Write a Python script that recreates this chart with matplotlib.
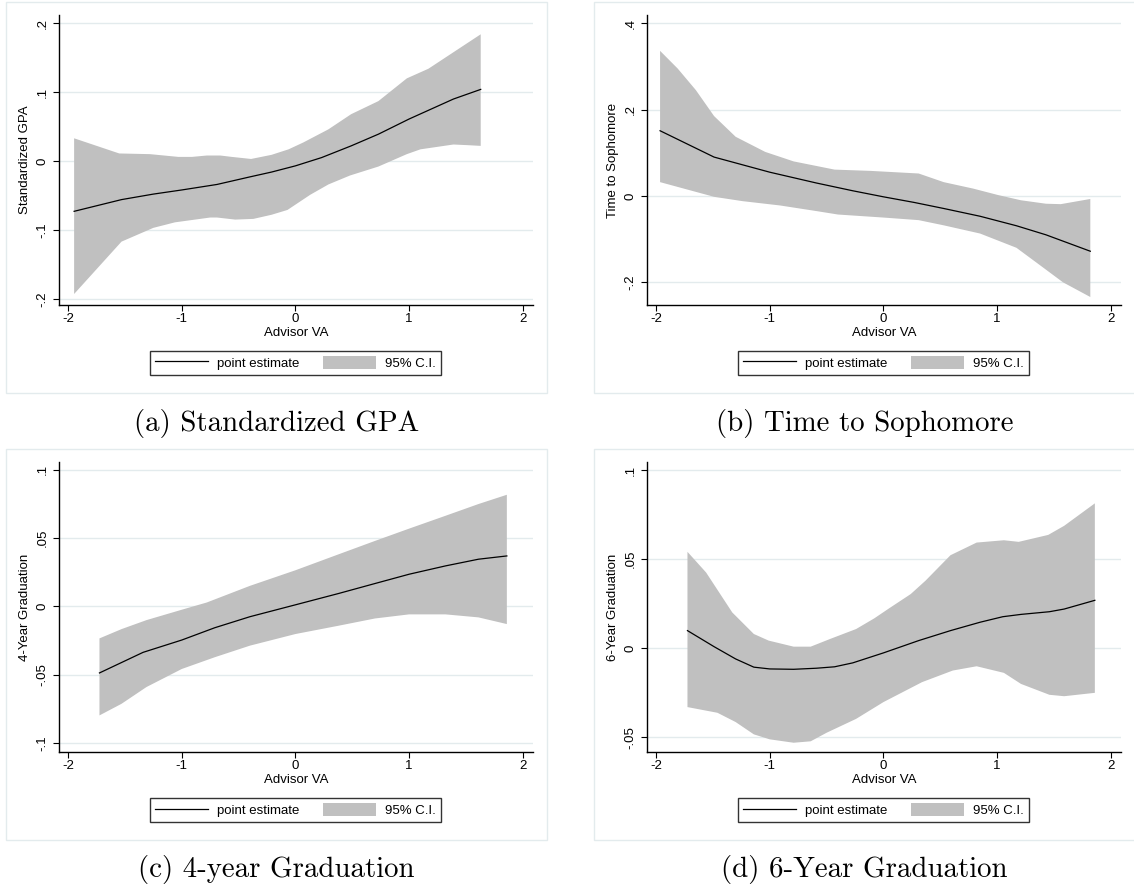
import numpy as np
import matplotlib
matplotlib.use("Agg")
from matplotlib import pyplot as plt
from matplotlib.patches import Rectangle, Patch
from matplotlib.lines import Line2D

# (a) Standardized GPA
a_x = [-1.947, -1.53, -1.25, -1.0, -0.69, -0.40, -0.21, 0.0, 0.23, 0.49, 0.73, 1.0, 1.39, 1.63]
a_est = [-0.073, -0.056, -0.048, -0.042, -0.034, -0.023, -0.016, -0.007, 0.005, 0.022, 0.039, 0.061, 0.090, 0.104]
a_up_x = [-1.947, -1.55, -1.28, -1.03, -0.91, -0.78, -0.66, -0.56, -0.39, -0.21, -0.06, 0.07, 0.29, 0.49, 0.73, 0.98, 1.17, 1.63]
a_up = [0.033, 0.011, 0.010, 0.006, 0.006, 0.008, 0.008, 0.006, 0.003, 0.009, 0.017, 0.027, 0.046, 0.068, 0.087, 0.120, 0.134, 0.184]
a_lo_x = [-1.947, -1.53, -1.25, -1.06, -0.75, -0.69, -0.53, -0.37, -0.21, -0.07, 0.13, 0.29, 0.48, 0.73, 0.98, 1.10, 1.39, 1.52, 1.63]
a_lo = [-0.193, -0.117, -0.097, -0.089, -0.082, -0.082, -0.085, -0.084, -0.078, -0.071, -0.049, -0.034, -0.021, -0.008, 0.010, 0.017, 0.024, 0.023, 0.022]

# (b) Time to Sophomore
b_x = [-1.965, -1.49, -1.0, -0.59, -0.27, 0.0, 0.27, 0.53, 0.85, 1.17, 1.43, 1.82]
b_est = [0.151, 0.090, 0.055, 0.030, 0.012, -0.002, -0.015, -0.029, -0.047, -0.069, -0.090, -0.128]
b_up_x = [-1.965, -1.81, -1.65, -1.49, -1.30, -1.04, -0.79, -0.43, -0.11, 0.31, 0.53, 0.79, 1.01, 1.21, 1.43, 1.56, 1.82]
b_up = [0.336, 0.295, 0.245, 0.185, 0.137, 0.102, 0.080, 0.061, 0.058, 0.052, 0.032, 0.017, 0.002, -0.010, -0.018, -0.019, -0.007]
b_lo_x = [-1.965, -1.49, -1.24, -0.91, -0.59, -0.40, 0.0, 0.31, 0.53, 0.85, 1.17, 1.36, 1.58, 1.82]
b_lo = [0.032, -0.002, -0.012, -0.022, -0.035, -0.043, -0.050, -0.056, -0.068, -0.087, -0.120, -0.157, -0.200, -0.234]

# (c) 4-year Graduation
c_x = [-1.724, -1.34, -1.0, -0.71, -0.40, 0.0, 0.38, 0.70, 1.0, 1.32, 1.61, 1.86]
c_est = [-0.0487, -0.0336, -0.0246, -0.0156, -0.0075, 0.0012, 0.0095, 0.0168, 0.0236, 0.0297, 0.0346, 0.0370]
c_up_x = [-1.724, -1.53, -1.31, -1.0, -0.78, -0.40, 0.0, 0.38, 0.70, 1.0, 1.32, 1.61, 1.86]
c_up = [-0.0234, -0.0166, -0.0100, -0.0024, 0.0029, 0.0151, 0.0265, 0.0382, 0.0480, 0.0570, 0.0664, 0.0750, 0.0818]
c_lo_x = [-1.724, -1.53, -1.31, -1.0, -0.71, -0.40, 0.0, 0.38, 0.70, 1.0, 1.32, 1.61, 1.86]
c_lo = [-0.0798, -0.0713, -0.0590, -0.0458, -0.0372, -0.0287, -0.0202, -0.0141, -0.0088, -0.0058, -0.0058, -0.0080, -0.0129]

# (d) 6-Year Graduation
d_x = [-1.724, -1.49, -1.30, -1.14, -1.0, -0.79, -0.59, -0.43, -0.27, 0.0, 0.31, 0.59, 0.85, 1.05, 1.21, 1.46, 1.59, 1.86]
d_est = [0.0099, 0.0009, -0.0060, -0.0106, -0.0116, -0.0118, -0.0112, -0.0104, -0.0082, -0.0026, 0.0043, 0.0099, 0.0146, 0.0177, 0.0190, 0.0205, 0.0220, 0.0269]
d_up_x = [-1.724, -1.56, -1.33, -1.14, -1.01, -0.79, -0.64, -0.47, -0.24, -0.08, 0.05, 0.24, 0.37, 0.59, 0.82, 1.06, 1.19, 1.45, 1.59, 1.86]
d_up = [0.0541, 0.0425, 0.0201, 0.0080, 0.0043, 0.0009, 0.0009, 0.0052, 0.0108, 0.0168, 0.0224, 0.0304, 0.0379, 0.0522, 0.0593, 0.0606, 0.0597, 0.0636, 0.0687, 0.0813]
d_lo_x = [-1.724, -1.46, -1.30, -1.14, -1.0, -0.79, -0.64, -0.50, -0.24, 0.0, 0.34, 0.61, 0.82, 1.06, 1.21, 1.46, 1.59, 1.86]
d_lo = [-0.0330, -0.0362, -0.0414, -0.0483, -0.0511, -0.0530, -0.0522, -0.0474, -0.0396, -0.0302, -0.0190, -0.0125, -0.0101, -0.0138, -0.0200, -0.0261, -0.0269, -0.0250]

x_ticks = [-2, -1, 0, 1, 2]
x_tick_labels = ["-2", "-1", "0", "1", "2"]

panels = [
    dict(x=a_x, est=a_est, up_x=a_up_x, up=a_up, lo_x=a_lo_x, lo=a_lo,
         ylabel="Standardized GPA", ylim=(-0.209, 0.212),
         yticks=[-0.2, -0.1, 0, 0.1, 0.2], yticklabels=["-.2", "-.1", "0", ".1", ".2"],
         caption="(a) Standardized GPA"),
    dict(x=b_x, est=b_est, up_x=b_up_x, up=b_up, lo_x=b_lo_x, lo=b_lo,
         ylabel="Time to Sophomore", ylim=(-0.2525, 0.419),
         yticks=[-0.2, 0, 0.2, 0.4], yticklabels=["-.2", "0", ".2", ".4"],
         caption="(b) Time to Sophomore"),
    dict(x=c_x, est=c_est, up_x=c_up_x, up=c_up, lo_x=c_lo_x, lo=c_lo,
         ylabel="4-Year Graduation", ylim=(-0.1066, 0.1058),
         yticks=[-0.1, -0.05, 0, 0.05, 0.1], yticklabels=["-.1", "-.05", "0", ".05", ".1"],
         caption="(c) 4-year Graduation"),
    dict(x=d_x, est=d_est, up_x=d_up_x, up=d_up, lo_x=d_lo_x, lo=d_lo,
         ylabel="6-Year Graduation", ylim=(-0.0582, 0.1045),
         yticks=[-0.05, 0, 0.05, 0.1], yticklabels=["-.05", "0", ".05", ".1"],
         caption="(d) 6-Year Graduation"),
]

W, H = 1134, 892
fig = plt.figure(figsize=(W / 100, H / 100), dpi=100)
plt.rcParams["font.family"] = ["Liberation Sans", "DejaVu Sans"]

frame_col = "#e3ebed"
grid_col = "#e3ebed"
band_col = "#c0c0c0"

# pixel offsets of each panel (frame left/top)
offsets = [(6, 2), (594, 2), (6, 449), (594, 449)]

for p, (ox, oy) in zip(panels, offsets):
    # outer frame of the graph
    fig.patches.append(Rectangle((ox / W, 1 - (oy + 391) / H), 541 / W, 391 / H,
                                 transform=fig.transFigure, fill=False,
                                 edgecolor=frame_col, lw=1.0))
    left, right = ox + 53, ox + 527
    top, bottom = oy + 13, oy + 303
    ax = fig.add_axes([left / W, 1 - bottom / H, (right - left) / W, (bottom - top) / H])
    ax.fill(np.concatenate([p["up_x"], p["lo_x"][::-1]]),
            np.concatenate([p["up"], p["lo"][::-1]]),
            color=band_col, lw=0, zorder=2)
    ax.plot(p["x"], p["est"], color="black", lw=0.9, zorder=3)
    ax.set_xlim(-2.08, 2.09)
    ax.set_ylim(*p["ylim"])
    ax.set_xticks(x_ticks)
    ax.set_xticklabels(x_tick_labels)
    ax.set_yticks(p["yticks"])
    ax.set_yticklabels(p["yticklabels"], rotation=90, va="center")
    for y in p["yticks"]:
        ax.axhline(y, color=grid_col, lw=1.0, zorder=1)
    for s in ["top", "right"]:
        ax.spines[s].set_visible(False)
    for s in ["left", "bottom"]:
        ax.spines[s].set_linewidth(1.0)
    ax.tick_params(axis="both", labelsize=9.5, length=4.5, width=0.8)
    ax.tick_params(axis="x", pad=1)
    ax.tick_params(axis="y", pad=3)
    ax.set_xlabel("Advisor VA", fontsize=9.5, labelpad=2)
    ax.set_ylabel(p["ylabel"], fontsize=9.5, labelpad=4)

    handles = [Line2D([], [], color="black", lw=0.9),
               Patch(facecolor=band_col, edgecolor="none")]
    fig.legend(handles, ["point estimate", "95% C.I."], ncol=2,
               loc="center", bbox_to_anchor=((ox + 289.5) / W, 1 - (oy + 361) / H),
               fontsize=9.5, frameon=True, fancybox=False, framealpha=1,
               edgecolor="#333333", handlelength=4.0, handleheight=1.2,
               handletextpad=0.7, columnspacing=1.8, borderpad=0.4)\
        .get_frame().set_linewidth(1.0)

    fig.text((ox + 270.5) / W, 1 - (oy + 421) / H, p["caption"],
             family="cmr10", fontsize=20.8, ha="center", va="center")

fig.savefig("out.png", dpi=100)
